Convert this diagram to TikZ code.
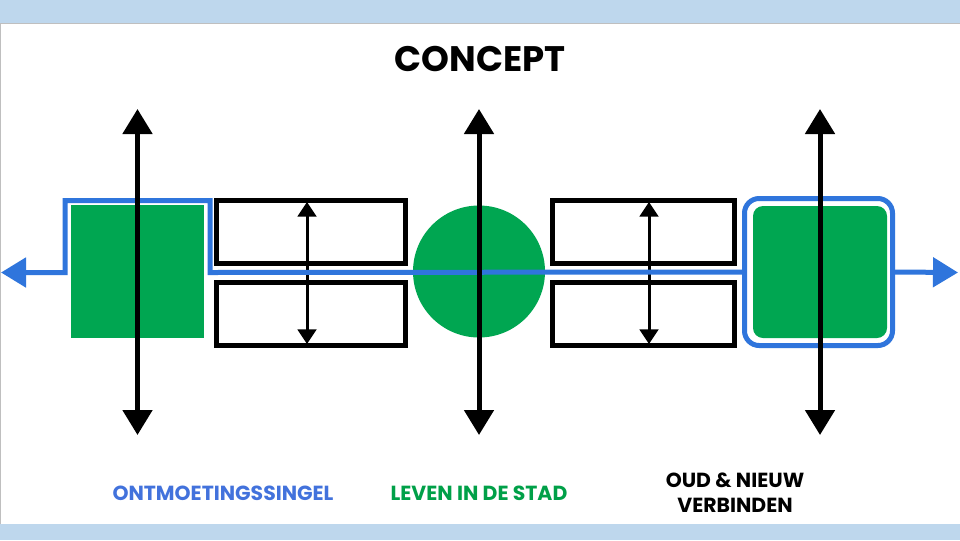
\documentclass[tikz,border=0pt]{standalone}
\usepackage{fontspec}
\setmainfont{Poppins}
\usetikzlibrary{arrows.meta}
\definecolor{bandblue}{RGB}{190,215,237}
\definecolor{pathblue}{RGB}{47,117,220}
\definecolor{labelblue}{RGB}{66,114,220}
\definecolor{fieldgreen}{RGB}{0,166,81}
\definecolor{labelgreen}{RGB}{0,160,72}
\tikzset{
  field/.style={fill=fieldgreen,draw=none,inner sep=0pt},
  block/.style={draw=black,line width=3.75pt,inner sep=0pt,minimum height=47.25pt},
  crossing/.style={black,line width=3.75pt,{Triangle[width=21.75pt,length=18.75pt]}-{Triangle[width=21.75pt,length=18.75pt]}},
  shiftarrow/.style={black,line width=2.25pt,{Triangle[width=14pt,length=11pt]}-{Triangle[width=14pt,length=11pt]}},
  singel/.style={pathblue,line width=3.75pt},
  caption/.style={font=\bfseries\fontsize{15.3}{18.75}\selectfont,align=center,inner sep=0.75pt}
}
\begin{document}
\begin{tikzpicture}[x=0.75pt,y=0.75pt,yscale=-1,xscale=1]
\useasboundingbox (0,0) rectangle (960,540);
%Background
\fill[bandblue] (0,0) rectangle (960,540);
\fill[white] (0,23) rectangle (960,524);
\draw[black!25,line width=0.75pt] (0.5,524) -- (0.5,23.5) -- (960,23.5);

%Shape: Square
\node[field,minimum width=99.75pt,minimum height=99.75pt] (oldfield) at (137.5,271.5) {};
%Shape: Circle
\node[field,circle,minimum size=99pt] (square) at (479,271.5) {};
%Shape: Rounded Square
\node[field,rounded corners=7.5pt,minimum width=100.5pt,minimum height=99pt] (newfield) at (820,272) {};
\node[draw=pathblue,line width=3.75pt,rounded corners=11pt,inner sep=0pt,minimum width=111pt,minimum height=110.25pt] (newframe) at (818.5,272) {};

%Shape: Rectangles
\node[block,minimum width=141.75pt] (westup) at (311,231.5) {};
\node[block,minimum width=141.75pt] (westdown) at (311,313.5) {};
\node[block,minimum width=136.5pt] (eastup) at (643.5,231.5) {};
\node[block,minimum width=136.5pt] (eastdown) at (643.5,313.5) {};

%Straight Lines
\coordinate (westtop) at (307,202);
\coordinate (westbottom) at (307,344);
\coordinate (easttop) at (649,202);
\coordinate (eastbottom) at (649,344);
\draw[shiftarrow] (westtop) -- (westbottom);
\draw[shiftarrow] (easttop) -- (eastbottom);

%Blue path
\coordinate (lefttip) at (1,272.5);
\coordinate (singelup) at (65,200.5);
\coordinate (singeldown) at (210,272.5);
\coordinate (righttip) at (958,272.5);
\draw[singel,{Triangle[width=21.75pt,length=18.75pt]}-] (lefttip) -| (singelup) -| (singeldown) -- (newframe.west);
\draw[singel,-{Triangle[width=21.75pt,length=18.75pt]}] (newframe.east) -- (righttip);

%Vertical arrows
\foreach \name/\x in {oldcross/137.5,midcross/479,newcross/820}{
  \coordinate (\name top) at (\x,109);
  \coordinate (\name bottom) at (\x,435);
  \draw[crossing] (\name top) -- (\name bottom);
}

% Text Node
\node[font=\bfseries\fontsize{26.6}{32}\selectfont,inner sep=0.75pt] (title) at (480,59) {CONCEPT};
% Text Node
\node[caption,text=labelblue] (singellabel) at (223,493) {ONTMOETINGSSINGEL};
% Text Node
\node[caption,text=labelgreen] (stadlabel) at (479,493) {LEVEN IN DE STAD};
% Text Node
\node[caption,text=black] (verbindlabel) at (735,493) {OUD \& NIEUW\\VERBINDEN};

\end{tikzpicture}
\end{document}
